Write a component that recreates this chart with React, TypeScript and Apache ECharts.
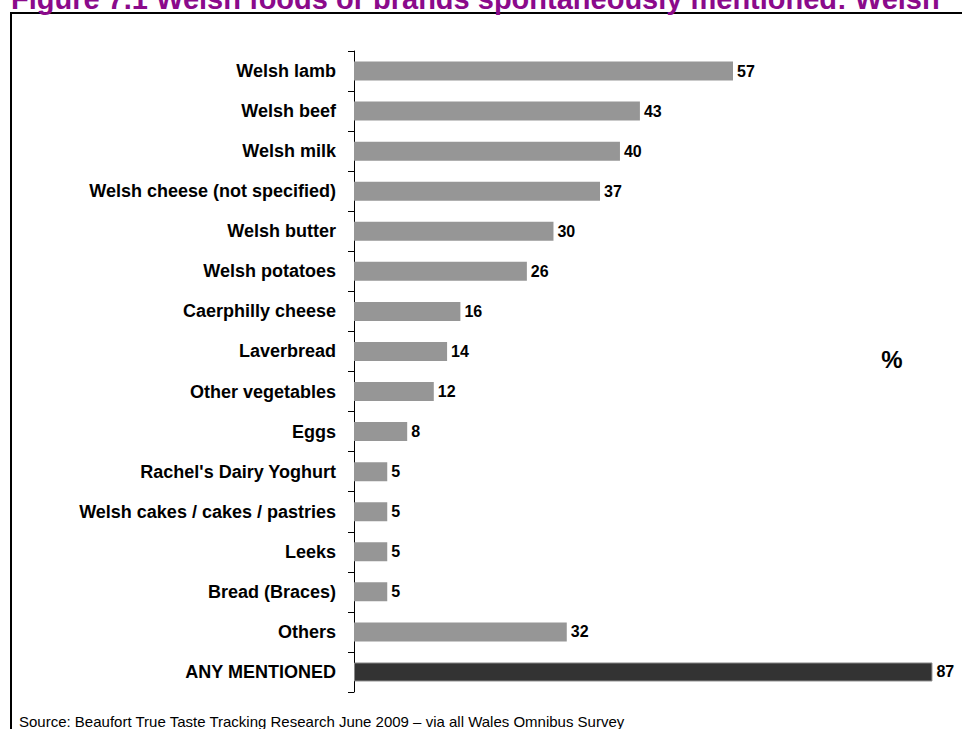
import React, { useEffect, useRef } from "react";
import * as echarts from "echarts";

const categories = [
  "Welsh lamb",
  "Welsh beef",
  "Welsh milk",
  "Welsh cheese (not specified)",
  "Welsh butter",
  "Welsh potatoes",
  "Caerphilly cheese",
  "Laverbread",
  "Other vegetables",
  "Eggs",
  "Rachel's Dairy Yoghurt",
  "Welsh cakes / cakes / pastries",
  "Leeks",
  "Bread (Braces)",
  "Others",
  "ANY MENTIONED",
];
const values = [57, 43, 40, 37, 30, 26, 16, 14, 12, 8, 5, 5, 5, 5, 32, 87];
const titleText = "Figure 7.1 Welsh foods or brands spontaneously mentioned: Welsh";
const sourceText =
  "Source: Beaufort True Taste Tracking Research June 2009 \u2013 via all Wales Omnibus Survey";
const unitText = "%";

export default function App() {
  const ref = useRef<HTMLDivElement>(null);
  useEffect(() => {
    if (!ref.current) return;
    const chart = echarts.init(ref.current, null, { renderer: "svg" });
    const font = "'Liberation Sans', Arial, sans-serif";
    const xMax = 87;
    const pxPerUnit = 6.649;
    chart.setOption({
      animation: false,
      backgroundColor: "#ffffff",
      grid: { left: 354, top: 51, height: 641, width: xMax * pxPerUnit },
      xAxis: {
        type: "value",
        min: 0,
        max: xMax,
        show: false,
      },
      yAxis: {
        type: "category",
        data: categories,
        inverse: true,
        axisLine: { show: true, lineStyle: { color: "#000", width: 1 } },
        axisTick: { show: true, length: 6, lineStyle: { color: "#000" } },
        axisLabel: {
          margin: 18,
          fontFamily: font,
          fontWeight: "bold",
          fontSize: 18,
          color: "#000",
        },
        splitLine: { show: false },
      },
      series: [
        {
          type: "bar",
          barWidth: 19,
          data: values.map((v, i) => ({
            value: v,
            itemStyle:
              i === values.length - 1
                ? { color: "#333333", borderColor: "#8a8a8a", borderWidth: 1 }
                : { color: "#969696" },
          })),
          label: {
            show: true,
            position: "right",
            distance: 4,
            fontFamily: font,
            fontWeight: "bold",
            fontSize: 16,
            color: "#000",
          },
        },
      ],
      graphic: [
        {
          type: "rect",
          shape: { x: 11, y: 13, width: 1000, height: 800 },
          style: { fill: "none", stroke: "#000", lineWidth: 2 },
          silent: true,
        },
        {
          type: "text",
          x: 11,
          y: 13,
          style: {
            text: titleText,
            fontFamily: font,
            fontWeight: "bold",
            fontSize: 29,
            fill: "#8b0a8b",
            verticalAlign: "bottom",
          },
        },
        {
          type: "text",
          x: 892,
          y: 359,
          style: {
            text: unitText,
            fontFamily: font,
            fontWeight: "bold",
            fontSize: 24,
            fill: "#000",
            align: "center",
            verticalAlign: "middle",
          },
        },
        {
          type: "text",
          x: 19,
          y: 721,
          style: {
            text: sourceText,
            fontFamily: font,
            fontSize: 15,
            fill: "#000",
            verticalAlign: "middle",
          },
        },
      ],
    });
    return () => chart.dispose();
  }, []);
  return (
    <div
      ref={ref}
      style={{ position: "fixed", left: 0, top: 0, width: 962, height: 729 }}
    />
  );
}
